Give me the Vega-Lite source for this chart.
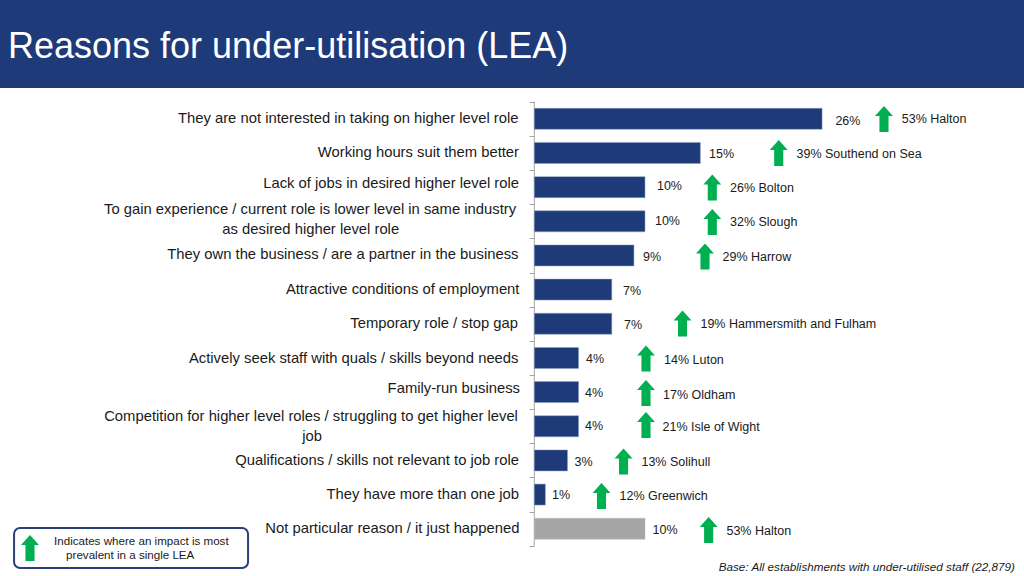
{
"$schema":"https://vega.github.io/schema/vega-lite/v6.json",
"width":1024,"height":576,"padding":0,
"autosize":{"type":"none"},
"background":"#ffffff",
"view":{"stroke":null},
"config":{"view":{"stroke":null},"text":{"font":"Liberation Sans","color":"#1a1a1a"}},
"datasets":{
"bars":[
{"rank":1,"group":"reason","pct":26},
{"rank":2,"group":"reason","pct":15},
{"rank":3,"group":"reason","pct":10},
{"rank":4,"group":"reason","pct":10},
{"rank":5,"group":"reason","pct":9},
{"rank":6,"group":"reason","pct":7},
{"rank":7,"group":"reason","pct":7},
{"rank":8,"group":"reason","pct":4},
{"rank":9,"group":"reason","pct":4},
{"rank":10,"group":"reason","pct":4},
{"rank":11,"group":"reason","pct":3},
{"rank":12,"group":"reason","pct":1},
{"rank":13,"group":"none","pct":10}
],
"reasons":[
{"t":"They are not interested in taking on higher level role","v":-1.43,"r":0.977,"c":false},
{"t":"Working hours suit them better","v":-1.38,"r":1.972,"c":false},
{"t":"Lack of jobs in desired higher level role","v":-1.38,"r":2.879,"c":false},
{"t":"To gain experience / current role is lower level in same industry","v":-20.26,"r":3.64,"c":true},
{"t":"as desired higher level role","v":-20.2,"r":4.226,"c":true},
{"t":"They own the business / are a partner in the business","v":-1.43,"r":4.972,"c":false},
{"t":"Attractive conditions of employment","v":-1.34,"r":5.983,"c":false},
{"t":"Temporary role / stop gap","v":-1.47,"r":6.978,"c":false},
{"t":"Actively seek staff with quals / skills beyond needs","v":-1.43,"r":7.988,"c":false},
{"t":"Family-run business","v":-1.29,"r":8.881,"c":false},
{"t":"Competition for higher level roles / struggling to get higher level","v":-20.17,"r":9.714,"c":true},
{"t":"job","v":-20.08,"r":10.3,"c":true},
{"t":"Qualifications / skills not relevant to job role","v":-1.38,"r":10.974,"c":false},
{"t":"They have more than one job","v":-1.38,"r":11.984,"c":false},
{"t":"Not particular reason / it just happened","v":-1.34,"r":12.979,"c":false}
],
"values":[
{"t":"26%","v":27.2,"r":1.035},{"t":"15%","v":15.78,"r":1.987},{"t":"10%","v":11.08,"r":2.938},{"t":"10%","v":10.9,"r":3.948},
{"t":"9%","v":9.82,"r":5.016},{"t":"7%","v":8.01,"r":5.997},{"t":"7%","v":8.1,"r":7.007},{"t":"4%","v":4.67,"r":7.988},
{"t":"4%","v":4.58,"r":9.012},{"t":"4%","v":4.58,"r":9.978},{"t":"3%","v":3.63,"r":11.003},{"t":"1%","v":1.6,"r":11.998},{"t":"10%","v":10.68,"r":13.008},
{"t":"53% Halton","v":33.2,"r":0.99},{"t":"39% Southend on Sea","v":23.69,"r":2.001},{"t":"26% Bolton","v":17.68,"r":2.996},{"t":"32% Slough","v":17.68,"r":3.992},
{"t":"29% Harrow","v":17.0,"r":5.002},{"t":"19% Hammersmith and Fulham","v":15.01,"r":6.978},{"t":"14% Luton","v":11.72,"r":8.017},{"t":"17% Oldham","v":11.63,"r":9.042},
{"t":"21% Isle of Wight","v":11.58,"r":9.993},{"t":"13% Solihull","v":9.68,"r":11.018},{"t":"12% Greenwich","v":7.7,"r":12.027},{"t":"53% Halton","v":17.36,"r":13.037}
],
"arrows":[
{"v":31.59,"r":1.006},{"v":22.08,"r":2.001},{"v":16.08,"r":3.011},{"v":16.08,"r":4.021},{"v":15.42,"r":5.031},{"v":13.39,"r":6.992},
{"v":10.09,"r":8.017},{"v":10.09,"r":9.027},{"v":10.09,"r":9.964},{"v":8.06,"r":11.032},{"v":6.07,"r":12.042},{"v":15.75,"r":13.037},{"v":-45.56,"r":13.564}
]
},
"layer":[
{"data":{"values":[{"a":-48.27,"b":44.24,"r1":-2.478,"r2":0.098}]},
 "mark":{"type":"rect","fill":"#1f3a78"},
 "encoding":{
  "x":{"field":"a","type":"quantitative","axis":null,"scale":{"domain":[-48.27,44.24],"nice":false,"zero":false,"padding":0}},
  "x2":{"field":"b"},
  "y":{"field":"r1","type":"quantitative","scale":{"domain":[-2.478,14.384],"reverse":true,"nice":false,"zero":false,"padding":0},
   "axis":{"orient":"left","offset":-534,"domain":false,"grid":false,"labels":false,"title":null,"ticks":true,"tickSize":5,"tickColor":"#a6a6a6","tickWidth":1,"values":[0.5,1.5,2.5,3.5,4.5,5.5,6.5,7.5,8.5,9.5,10.5,11.5,12.5,13.5]}},
  "y2":{"field":"r2"}}},
{"data":{"values":[{"t":"Reasons for under-utilisation (LEA)","v":-47.55,"r":-1.16}]},
 "mark":{"type":"text","align":"left","baseline":"middle","fontSize":36,"color":"#ffffff","dy":2},
 "encoding":{"x":{"field":"v","type":"quantitative"},"y":{"field":"r","type":"quantitative"},"text":{"field":"t"}}},
{"data":{"values":[{"v":0,"r1":0.5,"r2":13.5}]},
 "mark":{"type":"rule","color":"#a6a6a6","strokeWidth":1},
 "encoding":{"x":{"field":"v","type":"quantitative"},"y":{"field":"r1","type":"quantitative"},"y2":{"field":"r2"}}},
{"data":{"name":"bars"},
 "mark":{"type":"bar","orient":"horizontal","size":21,"strokeWidth":0.5},
 "encoding":{"x":{"field":"pct","type":"quantitative"},"y":{"field":"rank","type":"quantitative"},
  "fill":{"field":"group","type":"nominal","legend":null,"scale":{"domain":["reason","none"],"range":["#1f3a78","#a6a6a6"]}},
  "stroke":{"field":"group","type":"nominal","legend":null,"scale":{"domain":["reason","none"],"range":["#8ea0c4","#bdbdbd"]}}}},
{"data":{"name":"reasons"},"transform":[{"filter":"!datum.c"}],
 "mark":{"type":"text","align":"right","baseline":"middle","fontSize":14.8,"dy":1},
 "encoding":{"x":{"field":"v","type":"quantitative"},"y":{"field":"r","type":"quantitative"},"text":{"field":"t"}}},
{"data":{"name":"reasons"},"transform":[{"filter":"datum.c"}],
 "mark":{"type":"text","align":"center","baseline":"middle","fontSize":14.8,"dy":1},
 "encoding":{"x":{"field":"v","type":"quantitative"},"y":{"field":"r","type":"quantitative"},"text":{"field":"t"}}},
{"data":{"name":"values"},
 "mark":{"type":"text","align":"left","baseline":"middle","fontSize":12.5,"dy":1},
 "encoding":{"x":{"field":"v","type":"quantitative"},"y":{"field":"r","type":"quantitative"},"text":{"field":"t"}}},
{"data":{"values":[{"a":-47,"b":-25.86,"r1":12.979,"r2":14.15}]},
 "mark":{"type":"rect","fill":"#ffffff","stroke":"#2a4178","strokeWidth":2,"cornerRadius":6},
 "encoding":{"x":{"field":"a","type":"quantitative"},"x2":{"field":"b"},"y":{"field":"r1","type":"quantitative"},"y2":{"field":"r2"}}},
{"data":{"name":"arrows"},
 "mark":{"type":"point","filled":true,"opacity":1,"size":676,"color":"#00b050","strokeWidth":0,
  "shape":"M0,-1L0.69,-0.23L0.35,-0.23L0.35,1L-0.35,1L-0.35,-0.23L-0.69,-0.23Z"},
 "encoding":{"x":{"field":"v","type":"quantitative"},"y":{"field":"r","type":"quantitative"}}},
{"data":{"values":[{"t":"Indicates where an impact is most","v":-43.39,"r":13.36},{"t":"prevalent in a single LEA","v":-42.3,"r":13.77}]},
 "mark":{"type":"text","align":"left","baseline":"middle","fontSize":11.6,"dy":1},
 "encoding":{"x":{"field":"v","type":"quantitative"},"y":{"field":"r","type":"quantitative"},"text":{"field":"t"}}},
{"data":{"values":[{"t":"Base: All establishments with under-utilised staff (22,879)","v":43.42,"r":14.09}]},
 "mark":{"type":"text","align":"right","baseline":"middle","fontSize":11.7,"fontStyle":"italic","dy":1},
 "encoding":{"x":{"field":"v","type":"quantitative"},"y":{"field":"r","type":"quantitative"},"text":{"field":"t"}}}
]
}
